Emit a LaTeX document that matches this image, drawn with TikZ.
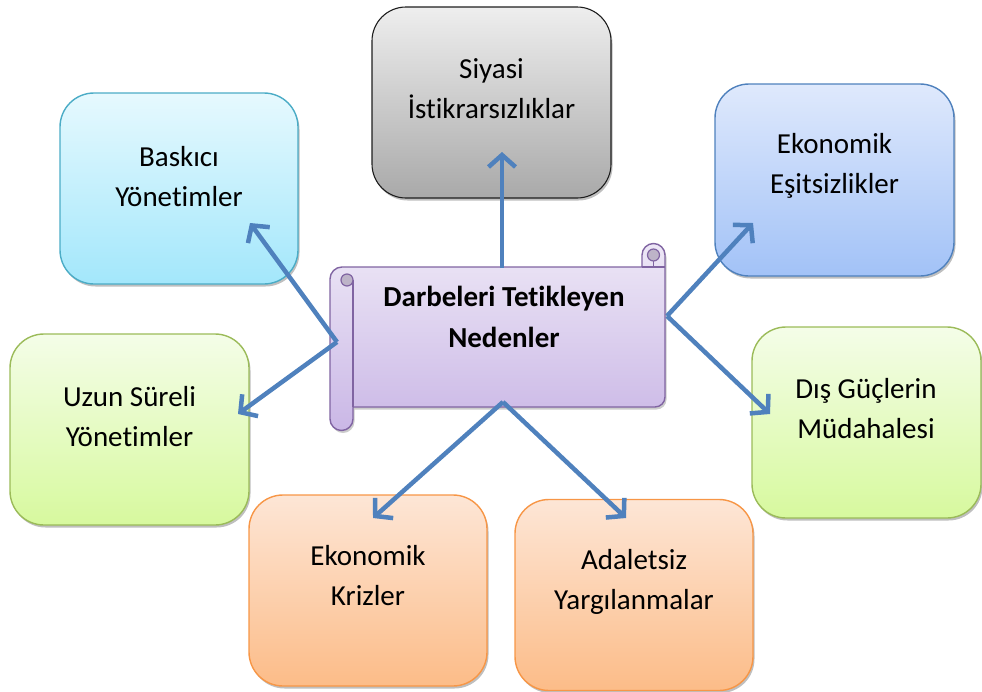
\documentclass[tikz,border=0pt]{standalone}
\usepackage{fontspec}
\setmainfont{Carlito}[Ligatures={NoCommon}]
\usetikzlibrary{arrows.meta,shadows}
\definecolor{cyanT}{HTML}{E6F9FE}
\definecolor{cyanB}{HTML}{A3E7FB}
\definecolor{cyanD}{HTML}{4BACC6}
\definecolor{grayT}{HTML}{EEEEEE}
\definecolor{grayB}{HTML}{A9A9A9}
\definecolor{grayD}{HTML}{1E1E1E}
\definecolor{blueT}{HTML}{DFE9FC}
\definecolor{blueB}{HTML}{A2C2F7}
\definecolor{blueD}{HTML}{4F81BD}
\definecolor{greenT}{HTML}{F4FDE8}
\definecolor{greenB}{HTML}{D7F99E}
\definecolor{greenD}{HTML}{9BBB59}
\definecolor{orangeT}{HTML}{FDE6D6}
\definecolor{orangeB}{HTML}{FCBC88}
\definecolor{orangeD}{HTML}{F79646}
\definecolor{scrT}{HTML}{EDE7F6}
\definecolor{scrB}{HTML}{CAB7E6}
\definecolor{scrD}{HTML}{8064A2}
\definecolor{curl}{HTML}{BDB3C8}
\definecolor{arrowC}{HTML}{4F81BD}
\begin{document}
\begin{tikzpicture}[x=1pt,y=-1pt,
  box/.style={line width=1.4pt, rounded corners=34pt, inner sep=0pt,
    drop shadow={shadow xshift=1.5pt, shadow yshift=-2.5pt, opacity=0.25, fill=black}},
  cyanbox/.style={box, draw=cyanD, top color=cyanT, bottom color=cyanB},
  graybox/.style={box, draw=grayD, line width=1.1pt, top color=grayT, bottom color=grayB},
  bluebox/.style={box, draw=blueD, top color=blueT, bottom color=blueB},
  greenbox/.style={box, draw=greenD, top color=greenT, bottom color=greenB},
  orangebox/.style={box, draw=orangeD, top color=orangeT, bottom color=orangeB},
  lbl/.style={font=\fontsize{29}{40}\selectfont, align=center, inner sep=0pt, text=black},
  titlelbl/.style={font=\fontsize{29}{41}\selectfont\bfseries, align=center, inner sep=0pt, text=black},
  arr/.style={draw=arrowC, line width=4.5pt, -{Straight Barb[length=12pt,width=27pt]}}]
\useasboundingbox (0,0) rectangle (982,691);
\begin{scope}
\clip (0,0) rectangle (982,691);
% boxes
\node[graybox, minimum width=239pt, minimum height=191pt] (siyasi) at (491.5,102.5) {};
\node[cyanbox, minimum width=238pt, minimum height=191pt] (baskici) at (179,188.5) {};
\node[bluebox, minimum width=239pt, minimum height=192pt] (esit) at (834.5,180) {};
\node[greenbox, minimum width=239pt, minimum height=191pt] (uzun) at (129.5,429.5) {};
\node[greenbox, minimum width=229pt, minimum height=191pt] (dis) at (866.5,422.5) {};
\node[orangebox, minimum width=238pt, minimum height=191pt] (kriz) at (368,590.5) {};
\node[orangebox, minimum width=238pt, minimum height=191pt] (adalet) at (634,595) {};
% labels
\node[lbl] (tsiyasi) at (491.5,89) {Siyasi\\İstikrarsızlıklar};
\node[lbl] (tbaskici) at (179,177) {Baskıcı\\Yönetimler};
\node[lbl] (tesit) at (834.5,166) {Ekonomik\\Eşitsizlikler};
\node[lbl] (tuzun) at (129.5,417) {Uzun Süreli\\Yönetimler};
\node[lbl] (tdis) at (866,409) {Dış Güçlerin\\Müdahalesi};
\node[lbl] (tkriz) at (368,576) {Ekonomik\\Krizler};
\node[lbl] (tadalet) at (634,582) {Adaletsiz\\Yargılanmalar};
% scroll
\fill[black, opacity=0.2, xshift=1.5pt, yshift=-2.5pt]
  (330,279) arc(180:270:12) -- (642,267) -- (642,255) arc(180:360:11.5)
  -- (665,397) arc(0:90:10) -- (353,407) -- (353,419) arc(0:180:11.5) -- cycle;
\shade[top color=scrT, bottom color=scrB, draw=scrD, line width=1.4pt, line join=round]
  (330,279) arc(180:270:12) -- (642,267) -- (642,255) arc(180:360:11.5)
  -- (665,397) arc(0:90:10) -- (353,407) -- (353,419) arc(0:180:11.5) -- cycle;
\draw[scrD, line width=1.4pt] (353,280) -- (353,407);
\draw[scrD, line width=1.4pt] (642,267) -- (665,267);
\filldraw[fill=curl, draw=scrD, line width=1.2pt] (353,280) arc(0:-180:6) arc(180:90:6) -- (347,286) arc(90:0:6);
\filldraw[fill=curl, draw=scrD, line width=1.2pt] (659.5,255) arc(0:-180:6) arc(180:90:6) -- (653.5,261) arc(90:0:6);
\draw[scrD, line width=1.2pt] (653.5,261) -- (653.5,267);
\node[titlelbl] (title) at (504,317) {Darbeleri Tetikleyen\\Nedenler};
% connectors
\coordinate (sTop) at (502,268);
\coordinate (sL) at (337,342);
\coordinate (sR) at (667,316);
\coordinate (sB) at (503,402);
\coordinate (eSiyasi) at (502,152);
\coordinate (eBaskici) at (250,223);
\coordinate (eUzun) at (238,414);
\coordinate (eEsit) at (753,223);
\coordinate (eDis) at (770,414);
\coordinate (eKriz) at (373,518);
\coordinate (eAdalet) at (626,518);
\draw[arr] (sTop) -- (eSiyasi);
\draw[arr] (sL) -- (eBaskici);
\draw[arr] (sL) -- (eUzun);
\draw[arr] (sR) -- (eEsit);
\draw[arr] (sR) -- (eDis);
\draw[arr] (sB) -- (eKriz);
\draw[arr] (sB) -- (eAdalet);
\end{scope}
\end{tikzpicture}
\end{document}
